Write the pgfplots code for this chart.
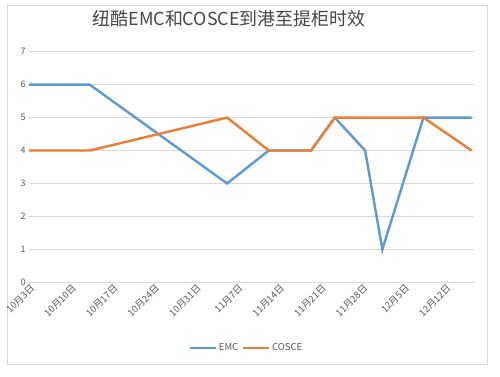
\documentclass[border=0pt]{standalone}
\usepackage{pgfplots}
\pgfplotsset{compat=1.18}
\usepackage{fontspec}
\setmainfont{Noto Sans CJK SC}
\definecolor{emc}{HTML}{5B9BD5}
\definecolor{cosce}{HTML}{ED7D31}
\definecolor{txt}{HTML}{595959}
\definecolor{grd}{HTML}{D9D9D9}
\begin{document}
\begin{tikzpicture}[x=1bp,y=1bp]
\fill[white] (0,0) rectangle (500,376);
\draw[grd, line width=0.8bp] (7,12) rectangle (487,371);
\node[txt!80!black, font=\fontsize{18}{22}\selectfont] at (229,357) {纽酷EMC和COSCE到港至提柜时效};
\begin{axis}[
  at={(29bp,93.7bp)}, anchor=south west,
  scale only axis, width=445bp, height=230.6bp,
  xmin=0, xmax=74.8, ymin=0, ymax=7,
  axis line style={draw=none},
  axis x line*=bottom,
  x axis line style={draw=grd, line width=0.8bp},
  ytick={0,...,7},
  xtick={0,7,...,70},
  xticklabels={10月3日,10月10日,10月17日,10月24日,10月31日,11月7日,11月14日,11月21日,11月28日,12月5日,12月12日},
  xticklabel style={rotate=45, anchor=north east, font=\fontsize{9.5}{11}\selectfont, text=txt, inner sep=0.5pt, xshift=3bp, yshift=2bp},
  yticklabel style={font=\fontsize{9}{10}\selectfont, text=txt},
  /pgf/number format/assume math mode=true,
  ymajorgrids, grid style={grd, line width=0.8bp},
  major x tick style={draw=grd, line width=0.8bp},
  major y tick style={draw=none},
  xtick align=outside, major tick length=4bp,
  legend style={at={(0.489,-0.285)}, anchor=center, draw=none, fill=none,
    legend columns=2, font=\fontsize{9.5}{11}\selectfont, text=txt,
    /tikz/every even column/.append style={column sep=2bp}},
  legend cell align=left,
  legend image code/.code={\draw[#1, line width=2.4bp] (0,0) -- (0.9cm,0);},
  clip=false,
]
\addplot[emc, line width=2.4bp] coordinates {
 (0,6) (10.2,6) (33.3,3) (40.3,4) (47.4,4) (51.4,5) (56.5,4) (59.4,1) (66.3,5) (74.4,5)};
\addlegendentry{EMC}
\addplot[cosce, line width=2.4bp] coordinates {
 (0,4) (10.2,4) (33.3,5) (40.3,4) (47.4,4) (51.4,5) (56.5,5) (59.4,5) (66.3,5) (74.4,4)};
\addlegendentry{COSCE}
\end{axis}
\end{tikzpicture}
\end{document}
